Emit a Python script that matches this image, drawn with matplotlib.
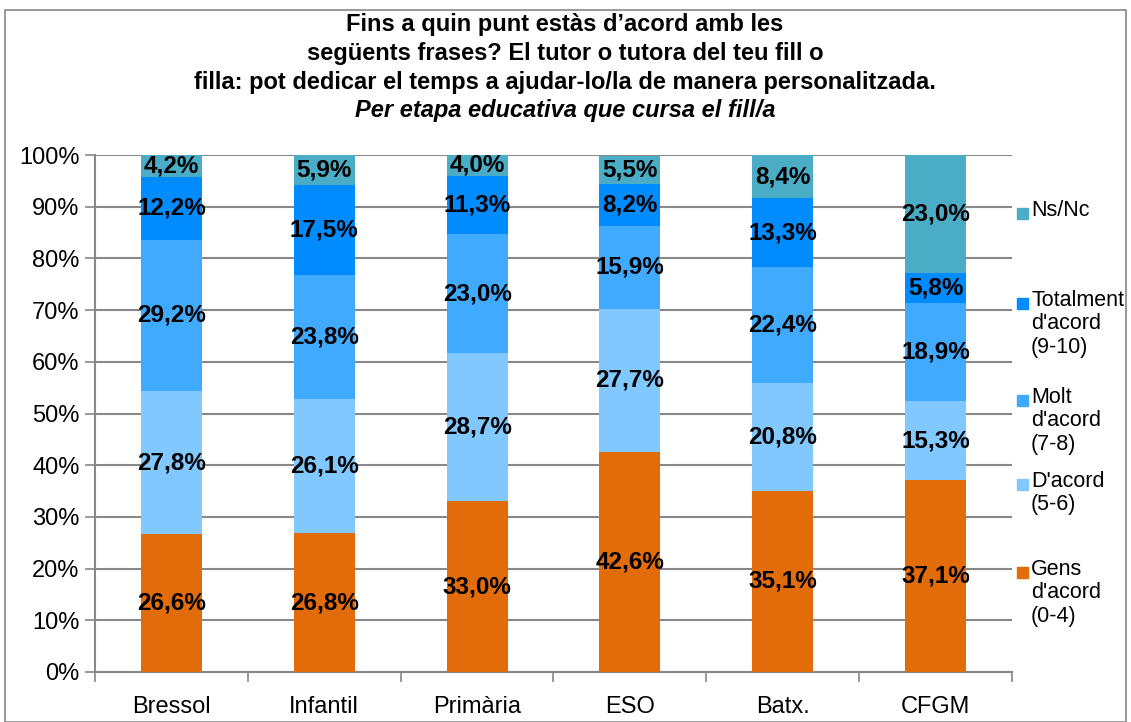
import matplotlib.pyplot as plt
from matplotlib.patches import Rectangle
import numpy as np

plt.rcParams['font.family'] = ['Liberation Sans', 'DejaVu Sans']

categories = ['Bressol', 'Infantil', 'Primària', 'ESO', 'Batx.', 'CFGM']
series_names = ['Gens\nd\'acord\n(0-4)', 'D\'acord\n(5-6)', 'Molt\nd\'acord\n(7-8)',
                'Totalment\nd\'acord\n(9-10)', 'Ns/Nc']
gens = [26.6, 26.8, 33.0, 42.6, 35.1, 37.1]
dacord = [27.8, 26.1, 28.7, 27.7, 20.8, 15.3]
molt = [29.2, 23.8, 23.0, 15.9, 22.4, 18.9]
totalment = [12.2, 17.5, 11.3, 8.2, 13.3, 5.8]
nsnc = [4.2, 5.9, 4.0, 5.5, 8.4, 23.0]
colors = ['#E36C0A', '#80C8FF', '#40AAFF', '#008CFF', '#4BACC6']

series = [gens, dacord, molt, totalment, nsnc]

fig = plt.figure(figsize=(11.31, 7.22), dpi=100)
ax = fig.add_axes([95 / 1131, 1 - 672 / 722, (1012 - 95) / 1131, (672 - 155) / 722])

# outer frame like the original chart box
fig.patches.append(Rectangle((5 / 1131, 0), 1121 / 1131, 1 - 10 / 722, transform=fig.transFigure,
                             fill=False, edgecolor='#888888', linewidth=1.2))

x = np.arange(len(categories))
bottom = np.zeros(len(categories))
for vals, col in zip(series, colors):
    vals = np.array(vals)
    top = np.minimum(bottom + vals, 100)
    ax.bar(x, top - bottom, 0.4, bottom=bottom, color=col, zorder=3)
    for xi, b, t, v in zip(x, bottom, top, vals):
        ax.text(xi, (b + t) / 2, f'{v:.1f}%'.replace('.', ','), ha='center', va='center',
                fontsize=17.5, fontweight='bold', zorder=4)
    bottom = bottom + vals

ax.set_xlim(-0.5, len(categories) - 0.5)
ax.set_ylim(0, 100)
ax.set_yticks(np.arange(0, 101, 10))
ax.set_yticklabels([f'{v}%' for v in range(0, 101, 10)], fontsize=17)
ax.set_xticks(x)
ax.set_xticklabels(categories, fontsize=17)
ax.set_xticks(np.arange(-0.5, len(categories)), minor=True)
ax.tick_params(axis='x', which='major', length=0, pad=17)
ax.tick_params(axis='x', which='minor', length=7, color='#888888', width=1.2)
ax.tick_params(axis='y', length=7, color='#888888', width=1.2, pad=4)
ax.grid(axis='y', color='#888888', linewidth=1.5, zorder=0)
for s in ['top', 'right']:
    ax.spines[s].set_visible(False)
for s in ['left', 'bottom']:
    ax.spines[s].set_color('#888888')
    ax.spines[s].set_linewidth(1.5)

title_lines = ['Fins a quin punt estàs d’acord amb les',
               'següents frases? El tutor o tutora del teu fill o',
               'filla: pot dedicar el temps a ajudar-lo/la de manera personalitzada.']
for i, line in enumerate(title_lines):
    fig.text(565 / 1131, 1 - (25 + 28.7 * i) / 722, line,
             ha='center', va='center', fontsize=17, fontweight='bold')
fig.text(565 / 1131, 1 - 111 / 722, 'Per etapa educativa que cursa el fill/a',
         ha='center', va='center', fontsize=17, fontweight='bold', style='italic')

# legend, top to bottom
leg_y = [213, 303, 400, 484, 572]
for name, col, yy in zip(series_names[::-1], colors[::-1], leg_y):
    fig.patches.append(Rectangle((1017 / 1131, 1 - (yy + 6) / 722), 11 / 1131, 11 / 722,
                                 transform=fig.transFigure, color=col))
    fig.text(1031 / 1131, 1 - (yy - 13) / 722, name, ha='left', va='top', fontsize=15.5,
             linespacing=1.15)

fig.savefig('out.png', dpi=100)
